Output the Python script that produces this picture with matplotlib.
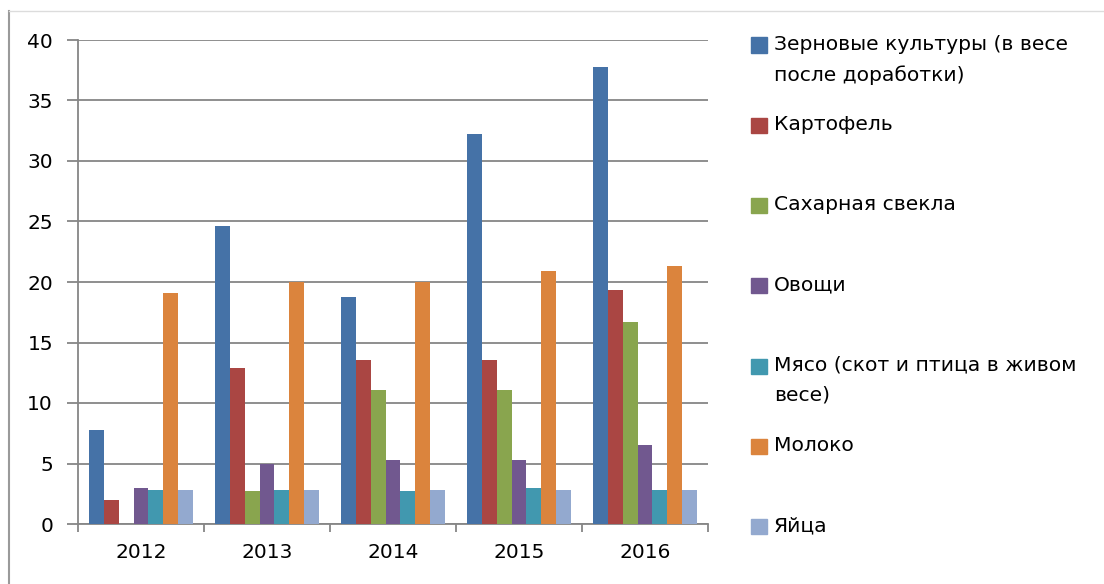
import matplotlib
matplotlib.use("Agg")
import matplotlib.pyplot as plt
from matplotlib.lines import Line2D
from matplotlib.patches import Rectangle
import numpy as np

years = ["2012", "2013", "2014", "2015", "2016"]
series = [
    "Зерновые культуры (в весе\nпосле доработки)",
    "Картофель",
    "Сахарная свекла",
    "Овощи",
    "Мясо (скот и птица в живом\nвесе)",
    "Молоко",
    "Яйца",
]
grain = [7.8, 24.6, 18.8, 32.2, 37.8]
potato = [2.0, 12.9, 13.55, 13.55, 19.3]
beet = [0.0, 2.7, 11.1, 11.1, 16.7]
vegetables = [3.0, 5.0, 5.3, 5.3, 6.5]
meat = [2.85, 2.85, 2.7, 3.0, 2.85]
milk = [19.1, 20.0, 20.0, 20.95, 21.3]
eggs = [2.85, 2.85, 2.85, 2.85, 2.85]
values = [grain, potato, beet, vegetables, meat, milk, eggs]
colors = ["#4572A7", "#AA4643", "#89A54E", "#71588F", "#4198AF", "#DB843D", "#93A9CF"]

W, H = 1104, 584
fig = plt.figure(figsize=(W / 100, H / 100), dpi=100)
ax = fig.add_axes([78 / W, 1 - 524 / H, 630 / W, 484 / H])

font = {"family": "DejaVu Sans", "size": 14.5}
legend_font = {"family": "DejaVu Sans", "size": 14.6}
grid_c = "#868686"

x = np.arange(len(years))
bw = 0.118
for i, (vals, c) in enumerate(zip(values, colors)):
    ax.bar(x + (i - 3) * bw, vals, width=bw, color=c, zorder=3)

ax.set_xlim(-0.5, len(years) - 0.5)
ax.set_ylim(0, 40)
ax.set_yticks(range(0, 41, 5))
ax.set_yticklabels([str(v) for v in range(0, 41, 5)], fontdict=font)
ax.set_xticks(x)
ax.set_xticklabels(years, fontdict=font)
ax.set_xticks(np.arange(len(years) + 1) - 0.5, minor=True)
ax.tick_params(axis="x", which="major", length=0, pad=14)
ax.tick_params(axis="x", which="minor", length=6, width=1.3, color=grid_c, direction="out")
ax.tick_params(axis="y", length=8, width=1.3, color=grid_c, pad=10)
ax.yaxis.grid(True, color=grid_c, linewidth=1.3, zorder=0)
for s in ["top", "right"]:
    ax.spines[s].set_visible(False)
for s in ["left", "bottom"]:
    ax.spines[s].set_color(grid_c)
    ax.spines[s].set_linewidth(1.3)

# legend, drawn by hand to mimic the spaced Excel layout
for i, (label, c) in enumerate(zip(series, colors)):
    yc = 45 + i * 80.3
    fig.add_artist(Rectangle((751 / W, 1 - (yc + 7.5) / H), 16 / W, 15 / H,
                             transform=fig.transFigure, color=c))
    fig.text(774 / W, 1 - (yc - 10.5) / H, label, fontdict=legend_font, va="top",
             ha="left", linespacing=1.75)

# chart area frame
fig.add_artist(Line2D([9 / W, 9 / W], [0, 1 - 11 / H], transform=fig.transFigure,
                      color="#9a9a9a", linewidth=1.5))
fig.add_artist(Line2D([9 / W, 1], [1 - 11 / H, 1 - 11 / H], transform=fig.transFigure,
                      color="#dcdcdc", linewidth=1))

fig.savefig("out.png", dpi=100, facecolor="white")
